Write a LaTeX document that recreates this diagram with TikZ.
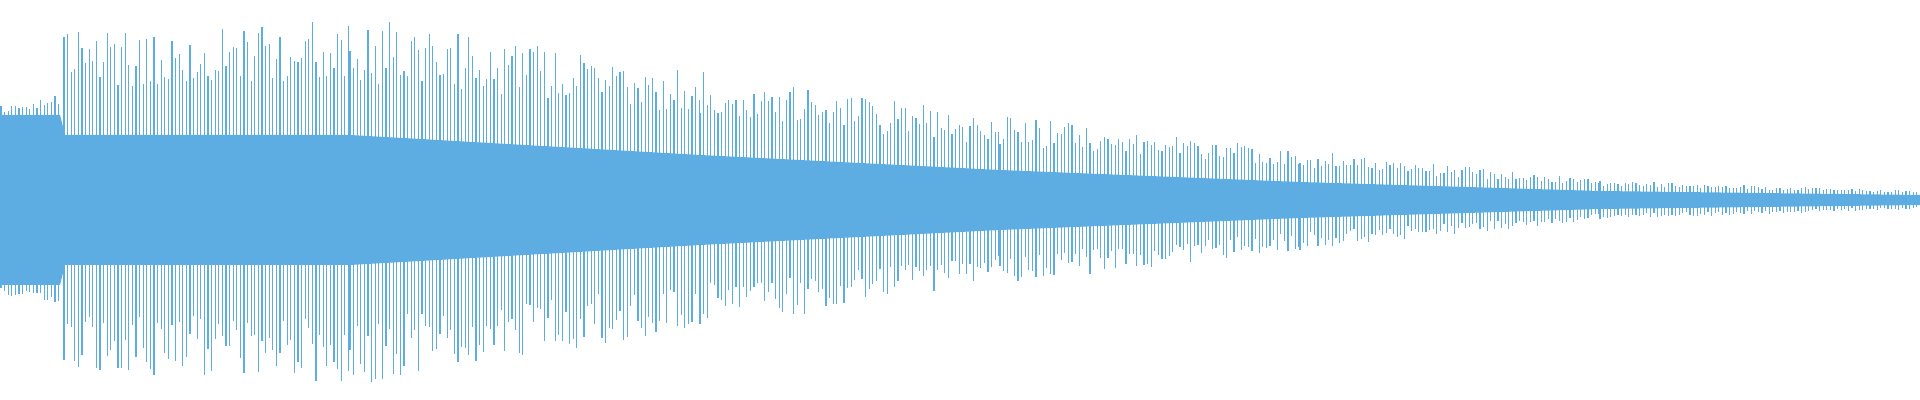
\documentclass[tikz,border=0pt]{standalone}
\definecolor{wave}{HTML}{5DADE2}
\begin{document}
\begin{tikzpicture}[x=0.5pt,y=0.5pt,wl/.style={draw=wave,line width=0.65pt}]
\useasboundingbox (0,0) rectangle (1920,400);
\pgfmathsetseed{7}
% core
\fill[wave] (0,285) -- (60,285) -- (65,265) -- (350,265) -- (700,245) -- (1000,230) -- (1300,218) -- (1600,209) -- (1920,205)
 -- (1920,195) -- (1600,191) -- (1300,182) -- (1000,170) -- (700,155) -- (350,135) -- (65,135) -- (60,115) -- (0,115) -- cycle;
\foreach \xa/\oa/\ca/\xb/\ob/\cb in {1/95/80/62/105/85, 64/170/65/350/185/65, 350/185/65/700/130/45, 700/130/45/1000/85/30, 1000/85/30/1300/50/18, 1300/50/18/1600/20/9, 1600/20/9/1920/9/5}{
  \pgfmathsetmacro\xs{\xa+3.6}
  \foreach \x in {\xa,\xs,...,\xb}{
    \pgfmathsetmacro\f{(\x-\xa)/(\xb-\xa)}
    \pgfmathsetmacro\o{\oa+(\ob-\oa)*\f}
    \pgfmathsetmacro\c{\ca+(\cb-\ca)*\f}
    \pgfmathsetmacro\t{200+\c+(\o-\c)*(0.45+0.55*rnd)}
    \pgfmathsetmacro\b{200-\c-(\o-\c)*(0.45+0.55*rnd)}
    \draw[wl] (\x,\b) -- (\x,\t);
  }
}
\end{tikzpicture}
\end{document}
